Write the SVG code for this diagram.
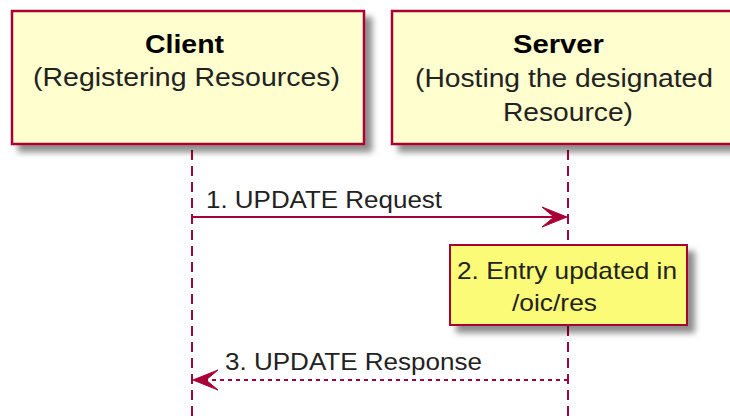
<svg xmlns="http://www.w3.org/2000/svg" width="730" height="416" viewBox="0 0 730 416">
<style>
.part{fill:#FEFECE;stroke:#A80036;stroke-width:2.5}
.note{fill:#FBFB77;stroke:#A80036;stroke-width:2}
.life{stroke:#A80036;stroke-width:2;stroke-dasharray:10,6;fill:none}
.msg{stroke:#A80036;stroke-width:2;fill:none}
.dash{stroke-dasharray:4,4}
.head{fill:#A80036;stroke:#A80036;stroke-width:1}
text{font-family:"Liberation Sans",Arial,sans-serif;fill:#000}
.t1{font-size:25px;font-weight:bold}
.t2{font-size:25px;fill:#222}
.t3{font-size:24px;fill:#222}
</style>
<defs>
<filter id="sh" x="-10%" y="-10%" width="130%" height="140%">
<feGaussianBlur in="SourceAlpha" stdDeviation="3"/>
<feOffset dx="7" dy="7" result="b"/>
<feComponentTransfer><feFuncA type="linear" slope="0.45"/></feComponentTransfer>
<feMerge><feMergeNode/><feMergeNode in="SourceGraphic"/></feMerge>
</filter>
</defs>
<rect width="730" height="416" fill="#FFFFFF"/>
<g id="lifelines">
<line class="life" x1="192" y1="150" x2="192" y2="416"/>
<line class="life" x1="568" y1="150" x2="568" y2="416"/>
</g>
<g id="client">
<rect class="part" x="12" y="11" width="352" height="133" filter="url(#sh)"/>
<text class="t1" x="145" y="53" textLength="79" lengthAdjust="spacingAndGlyphs">Client</text>
<text class="t2" x="33" y="86" textLength="307" lengthAdjust="spacingAndGlyphs">(Registering Resources)</text>
</g>
<g id="server">
<rect class="part" x="392" y="11" width="352" height="133" filter="url(#sh)"/>
<text class="t1" x="513" y="53" textLength="91" lengthAdjust="spacingAndGlyphs">Server</text>
<text class="t2" x="415" y="87" textLength="298" lengthAdjust="spacingAndGlyphs">(Hosting the designated</text>
<text class="t2" x="503" y="121" textLength="130" lengthAdjust="spacingAndGlyphs">Resource)</text>
</g>
<g id="connectors">
<line class="msg" x1="192" y1="217" x2="562" y2="217"/>
<polygon class="head" points="567,217 542,207 554,217 542,227"/>
<text class="t3" x="206" y="208" textLength="236" lengthAdjust="spacingAndGlyphs">1. UPDATE Request</text>
<line class="msg dash" x1="568" y1="380" x2="198" y2="380"/>
<polygon class="head" points="193,380 218,370 206,380 218,390"/>
<text class="t3" x="225" y="370" textLength="257" lengthAdjust="spacingAndGlyphs">3. UPDATE Response</text>
</g>
<g id="note">
<rect class="note" x="450" y="245" width="237" height="80" filter="url(#sh)"/>
<text class="t3" x="457" y="279" textLength="220" lengthAdjust="spacingAndGlyphs">2. Entry updated in</text>
<text class="t3" x="512" y="311" textLength="85" lengthAdjust="spacingAndGlyphs">/oic/res</text>
</g>
</svg>
